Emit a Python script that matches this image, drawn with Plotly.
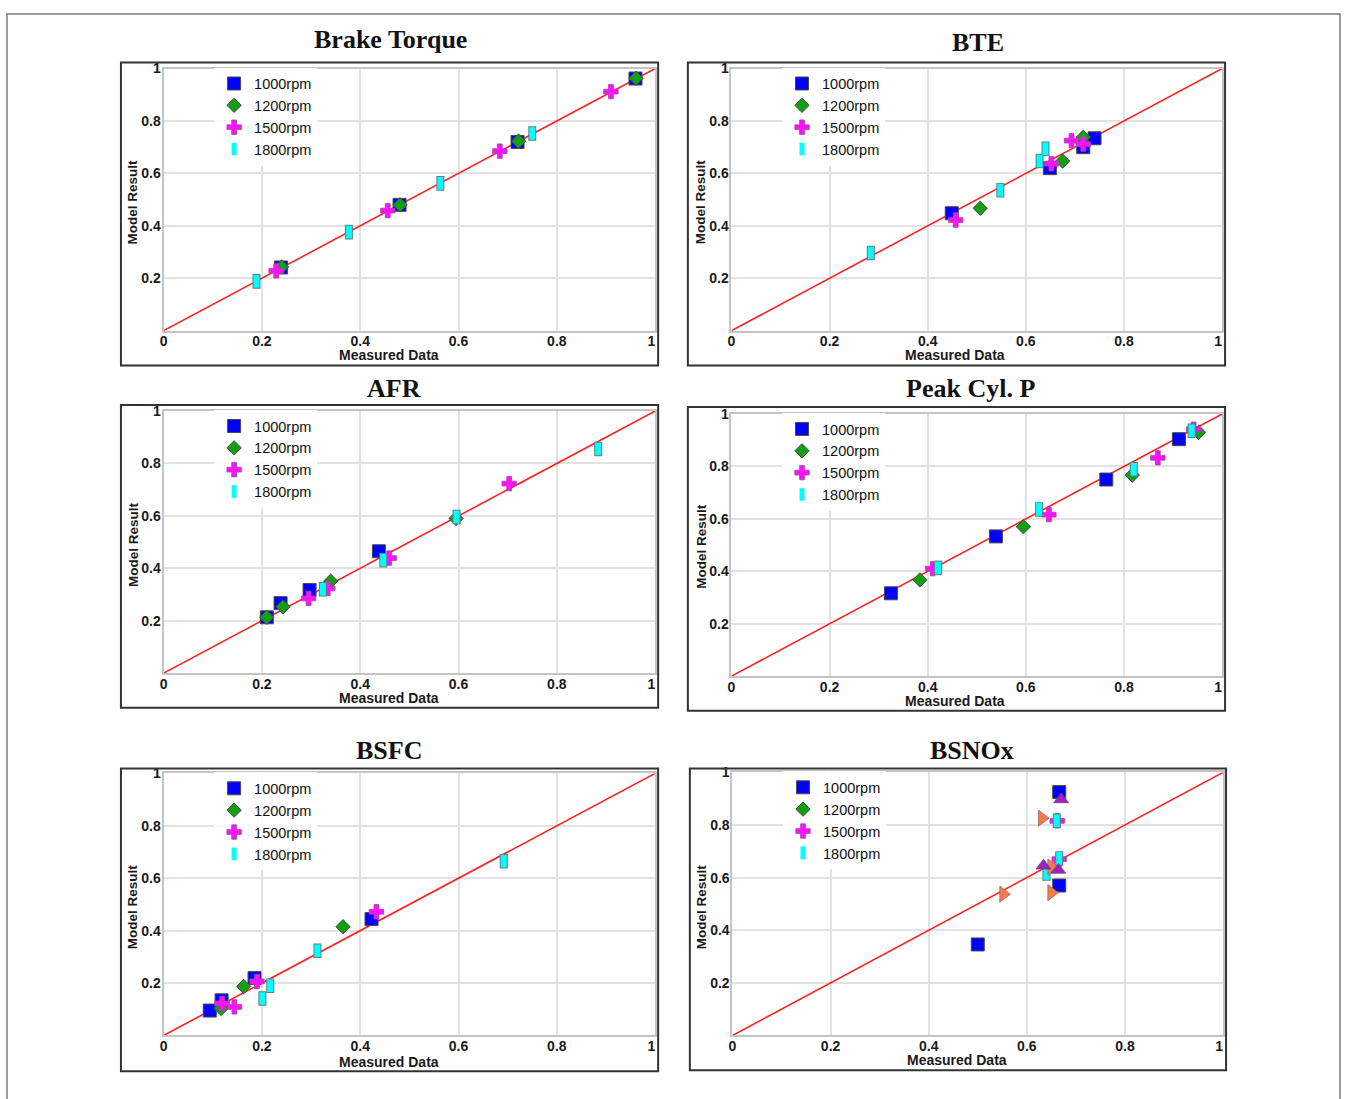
import plotly.graph_objects as go

W, H = 1351, 1099

# ---------------- data (measured, model) ----------------
series_names = ["1000rpm", "1200rpm", "1500rpm", "1800rpm"]
ref_line = [0, 1]
tick_vals_x = [0, 0.2, 0.4, 0.6, 0.8, 1]
tick_text_x = ["0", "0.2", "0.4", "0.6", "0.8", "1\u00a0\u00a0"]
tick_vals_y = [0.2, 0.4, 0.6, 0.8, 1]
tick_text_y = ["0.2", "0.4", "0.6", "0.8", "1"]

panel_titles = ["Brake Torque", "BTE", "AFR", "Peak Cyl. P", "BSFC", "BSNOx"]

# Brake Torque
bt_1000_x = [0.239, 0.480, 0.720, 0.960]
bt_1000_y = [0.241, 0.480, 0.720, 0.962]
bt_1200_x = [0.240, 0.481, 0.722, 0.961]
bt_1200_y = [0.243, 0.480, 0.723, 0.963]
bt_1500_x = [0.229, 0.456, 0.684, 0.910]
bt_1500_y = [0.228, 0.458, 0.685, 0.912]
bt_1800_x = [0.189, 0.377, 0.563, 0.750]
bt_1800_y = [0.188, 0.376, 0.562, 0.752]

# BTE
bte_1000_x = [0.449, 0.649, 0.717, 0.740]
bte_1000_y = [0.448, 0.620, 0.700, 0.734]
bte_1200_x = [0.507, 0.675, 0.717]
bte_1200_y = [0.467, 0.647, 0.738]
bte_1500_x = [0.457, 0.652, 0.693, 0.717]
bte_1500_y = [0.422, 0.637, 0.725, 0.712]
bte_1800_x = [0.284, 0.548, 0.628, 0.640]
bte_1800_y = [0.296, 0.536, 0.647, 0.694]

# AFR
afr_1000_x = [0.210, 0.238, 0.297, 0.438]
afr_1000_y = [0.213, 0.267, 0.317, 0.465]
afr_1200_x = [0.210, 0.243, 0.340, 0.595]
afr_1200_y = [0.213, 0.253, 0.351, 0.590]
afr_1500_x = [0.295, 0.334, 0.459, 0.703]
afr_1500_y = [0.285, 0.323, 0.439, 0.723]
afr_1800_x = [0.324, 0.447, 0.596, 0.884]
afr_1800_y = [0.320, 0.431, 0.596, 0.855]

# Peak Cyl. P
pcp_1000_x = [0.325, 0.539, 0.764, 0.912]
pcp_1000_y = [0.316, 0.533, 0.750, 0.904]
pcp_1200_x = [0.384, 0.595, 0.817, 0.952]
pcp_1200_y = [0.367, 0.570, 0.767, 0.930]
pcp_1500_x = [0.410, 0.647, 0.869, 0.942]
pcp_1500_y = [0.410, 0.616, 0.833, 0.942]
pcp_1800_x = [0.421, 0.627, 0.820, 0.938]
pcp_1800_y = [0.413, 0.636, 0.789, 0.936]

# BSFC
bsfc_1000_x = [0.094, 0.118, 0.185, 0.423]
bsfc_1000_y = [0.095, 0.134, 0.219, 0.444]
bsfc_1200_x = [0.117, 0.163, 0.365]
bsfc_1200_y = [0.103, 0.187, 0.415]
bsfc_1500_x = [0.119, 0.144, 0.190, 0.433]
bsfc_1500_y = [0.122, 0.109, 0.206, 0.472]
bsfc_1800_x = [0.201, 0.217, 0.313, 0.692]
bsfc_1800_y = [0.141, 0.190, 0.323, 0.665]

# BSNOx
bsnox_1000_x = [0.666, 0.666, 0.500]
bsnox_1000_y = [0.925, 0.570, 0.346]
bsnox_1200_x = []
bsnox_1200_y = []
bsnox_1500_x = [0.662, 0.666]
bsnox_1500_y = [0.816, 0.670]
bsnox_1800_x = [0.661, 0.666, 0.640]
bsnox_1800_y = [0.816, 0.673, 0.616]
bsnox_extra_a_x = [0.631, 0.552, 0.650, 0.650]
bsnox_extra_a_y = [0.826, 0.537, 0.640, 0.543]
bsnox_extra_b_x = [0.670, 0.634, 0.664]
bsnox_extra_b_y = [0.897, 0.645, 0.629]

panels_data = [
    [(bt_1000_x, bt_1000_y), (bt_1200_x, bt_1200_y), (bt_1500_x, bt_1500_y), (bt_1800_x, bt_1800_y)],
    [(bte_1000_x, bte_1000_y), (bte_1200_x, bte_1200_y), (bte_1500_x, bte_1500_y), (bte_1800_x, bte_1800_y)],
    [(afr_1000_x, afr_1000_y), (afr_1200_x, afr_1200_y), (afr_1500_x, afr_1500_y), (afr_1800_x, afr_1800_y)],
    [(pcp_1000_x, pcp_1000_y), (pcp_1200_x, pcp_1200_y), (pcp_1500_x, pcp_1500_y), (pcp_1800_x, pcp_1800_y)],
    [(bsfc_1000_x, bsfc_1000_y), (bsfc_1200_x, bsfc_1200_y), (bsfc_1500_x, bsfc_1500_y), (bsfc_1800_x, bsfc_1800_y)],
    [(bsnox_1000_x, bsnox_1000_y), (bsnox_1200_x, bsnox_1200_y), (bsnox_1500_x, bsnox_1500_y), (bsnox_1800_x, bsnox_1800_y)],
]


def or_none(v):
    # empty series still gets a legend entry
    return v if len(v) else [None]


# ---------------- layout geometry (pixels) ----------------
plot_px = [
    (161, 657, 61, 325),
    (734, 1229, 61, 325),
    (161, 657, 406, 670),
    (734, 1229, 409, 673),
    (161, 657, 771, 1035),
    (735, 1230, 770, 1035),
]
box_px = [
    (118, 660, 55, 360),
    (690, 1232, 55, 360),
    (118, 660, 400, 705),
    (690, 1232, 402, 708),
    (118, 660, 766, 1071),
    (692, 1233, 766, 1070),
]
title_px = [(390, 32), (983, 35), (393, 383), (975, 383), (388, 748), (977, 748)]
xtitle_px = [(388, 350), (960, 350), (388, 695), (960, 698), (388, 1062), (962, 1060)]
ytitle_px = [(130, 195), (703, 195), (130, 540), (703, 542), (130, 905), (704, 905)]


def px_x(v):
    return v / W


def px_y(v):
    return 1 - v / H


fig = go.Figure()

FONT = "Liberation Sans, Arial, sans-serif"
SERIF = "Liberation Serif, Times New Roman, serif"
OUT = "#4a4a4a"

for i in range(6):
    n = i + 1
    xa = "x" if n == 1 else f"x{n}"
    ya = "y" if n == 1 else f"y{n}"
    lg = "legend" if n == 1 else f"legend{n}"

    fig.add_trace(go.Scatter(x=ref_line, y=ref_line, mode="lines",
                             line=dict(color="#ff2020", width=1.6),
                             xaxis=xa, yaxis=ya, showlegend=False, hoverinfo="skip"))

    d = panels_data[i]
    fig.add_trace(go.Scatter(x=or_none(d[0][0]), y=or_none(d[0][1]), mode="markers", name=series_names[0],
                             marker=dict(symbol="square", size=13, color="#0000ff",
                                         line=dict(color=OUT, width=1)),
                             xaxis=xa, yaxis=ya, legend=lg))
    fig.add_trace(go.Scatter(x=or_none(d[1][0]), y=or_none(d[1][1]), mode="markers", name=series_names[1],
                             marker=dict(symbol="diamond", size=11, color="#11a011",
                                         line=dict(color=OUT, width=1)),
                             xaxis=xa, yaxis=ya, legend=lg))
    fig.add_trace(go.Scatter(x=or_none(d[2][0]), y=or_none(d[2][1]), mode="markers", name=series_names[2],
                             marker=dict(symbol="cross", size=12, color="#ff10ff",
                                         line=dict(color="#9a4a9a", width=0.8)),
                             xaxis=xa, yaxis=ya, legend=lg))
    # 1800 rpm: outlined narrow bar (outline + fill)
    fig.add_trace(go.Scatter(x=or_none(d[3][0]), y=or_none(d[3][1]), mode="markers", name=series_names[3],
                             marker=dict(symbol="line-ns", size=10.4, color="#6a8a8a",
                                         line=dict(color="#5f7f85", width=8)),
                             xaxis=xa, yaxis=ya, showlegend=False, hoverinfo="skip"))
    fig.add_trace(go.Scatter(x=or_none(d[3][0]), y=or_none(d[3][1]), mode="markers", name=series_names[3],
                             marker=dict(symbol="line-ns", size=9, color="#00ffff",
                                         line=dict(color="#00ffff", width=6)),
                             xaxis=xa, yaxis=ya, legend=lg))
    if n == 6:
        fig.add_trace(go.Scatter(x=bsnox_extra_a_x, y=bsnox_extra_a_y, mode="markers",
                                 marker=dict(symbol="triangle-right", size=14, color="#f47a4e",
                                             line=dict(color="#9a6a5a", width=0.8)),
                                 xaxis=xa, yaxis=ya, showlegend=False))
        fig.add_trace(go.Scatter(x=bsnox_extra_b_x, y=bsnox_extra_b_y, mode="markers",
                                 marker=dict(symbol="triangle-up", size=13, color="#a020c0",
                                             line=dict(color="#6a4a7a", width=0.8)),
                                 xaxis=xa, yaxis=ya, showlegend=False))

layout = dict(
    width=W, height=H,
    margin=dict(l=0, r=0, t=0, b=0),
    paper_bgcolor="white", plot_bgcolor="white",
    showlegend=True,
    font=dict(family=FONT, color="#222"),
)

shapes = []
annotations = []
for i in range(6):
    n = i + 1
    x0, x1, yt, yb = plot_px[i]
    axis_common = dict(range=[0, 1], showgrid=True, gridcolor="#e2e2e2", gridwidth=1.5,
                       zeroline=False, showline=True, linecolor="#c4c4c4", linewidth=2,
                       mirror=True, ticks="", fixedrange=True,
                       tickfont=dict(family=FONT, size=14, color="#1a1a1a", weight="bold"))
    xk = "xaxis" if n == 1 else f"xaxis{n}"
    yk = "yaxis" if n == 1 else f"yaxis{n}"
    layout[xk] = dict(axis_common, domain=[px_x(x0), px_x(x1)],
                      anchor="y" if n == 1 else f"y{n}",
                      tickvals=tick_vals_x, ticktext=tick_text_x, ticklabelstandoff=-3)
    layout[yk] = dict(axis_common, domain=[px_y(yb), px_y(yt)],
                      anchor="x" if n == 1 else f"x{n}",
                      tickvals=tick_vals_y, ticktext=tick_text_y, ticklabelstandoff=-2)
    lg = "legend" if n == 1 else f"legend{n}"
    layout[lg] = dict(x=px_x(x0 + 51), y=px_y(yt - 1), xanchor="left", yanchor="top",
                      bgcolor="rgba(255,255,255,0.9)", borderwidth=0,
                      font=dict(family=FONT, size=14.5, color="#111"),
                      tracegroupgap=0, itemsizing="trace")

    bx0, bx1, byt, byb = box_px[i]
    shapes.append(dict(type="rect", xref="paper", yref="paper",
                       x0=px_x(bx0), x1=px_x(bx1), y0=px_y(byb), y1=px_y(byt),
                       line=dict(color="#333333", width=2)))
    tx, ty = title_px[i]
    annotations.append(dict(text=panel_titles[i], x=px_x(tx), y=px_y(ty), xref="paper", yref="paper",
                            showarrow=False, xanchor="center", yanchor="middle",
                            font=dict(family=SERIF, size=26, color="#111", weight="bold")))
    ax_, ay_ = xtitle_px[i]
    annotations.append(dict(text="Measured Data", x=px_x(ax_), y=px_y(ay_), xref="paper", yref="paper",
                            showarrow=False, xanchor="center", yanchor="middle",
                            font=dict(family=FONT, size=14, color="#1a1a1a", weight="bold")))
    bx_, by_ = ytitle_px[i]
    annotations.append(dict(text="Model Result", x=px_x(bx_), y=px_y(by_), xref="paper", yref="paper",
                            showarrow=False, xanchor="center", yanchor="middle", textangle=-90,
                            font=dict(family=FONT, size=13.5, color="#1a1a1a", weight="bold")))

# outer picture frame
shapes.append(dict(type="rect", xref="paper", yref="paper",
                   x0=px_x(3), x1=px_x(1348), y0=px_y(1105), y1=px_y(6),
                   line=dict(color="#7a7a7a", width=1.5)))

layout["shapes"] = shapes
layout["annotations"] = annotations
fig.update_layout(**layout)

fig.write_html("out.html",
               post_script="document.body.style.margin='0';document.body.style.padding='0';"
                           "document.body.style.overflow='hidden';")
